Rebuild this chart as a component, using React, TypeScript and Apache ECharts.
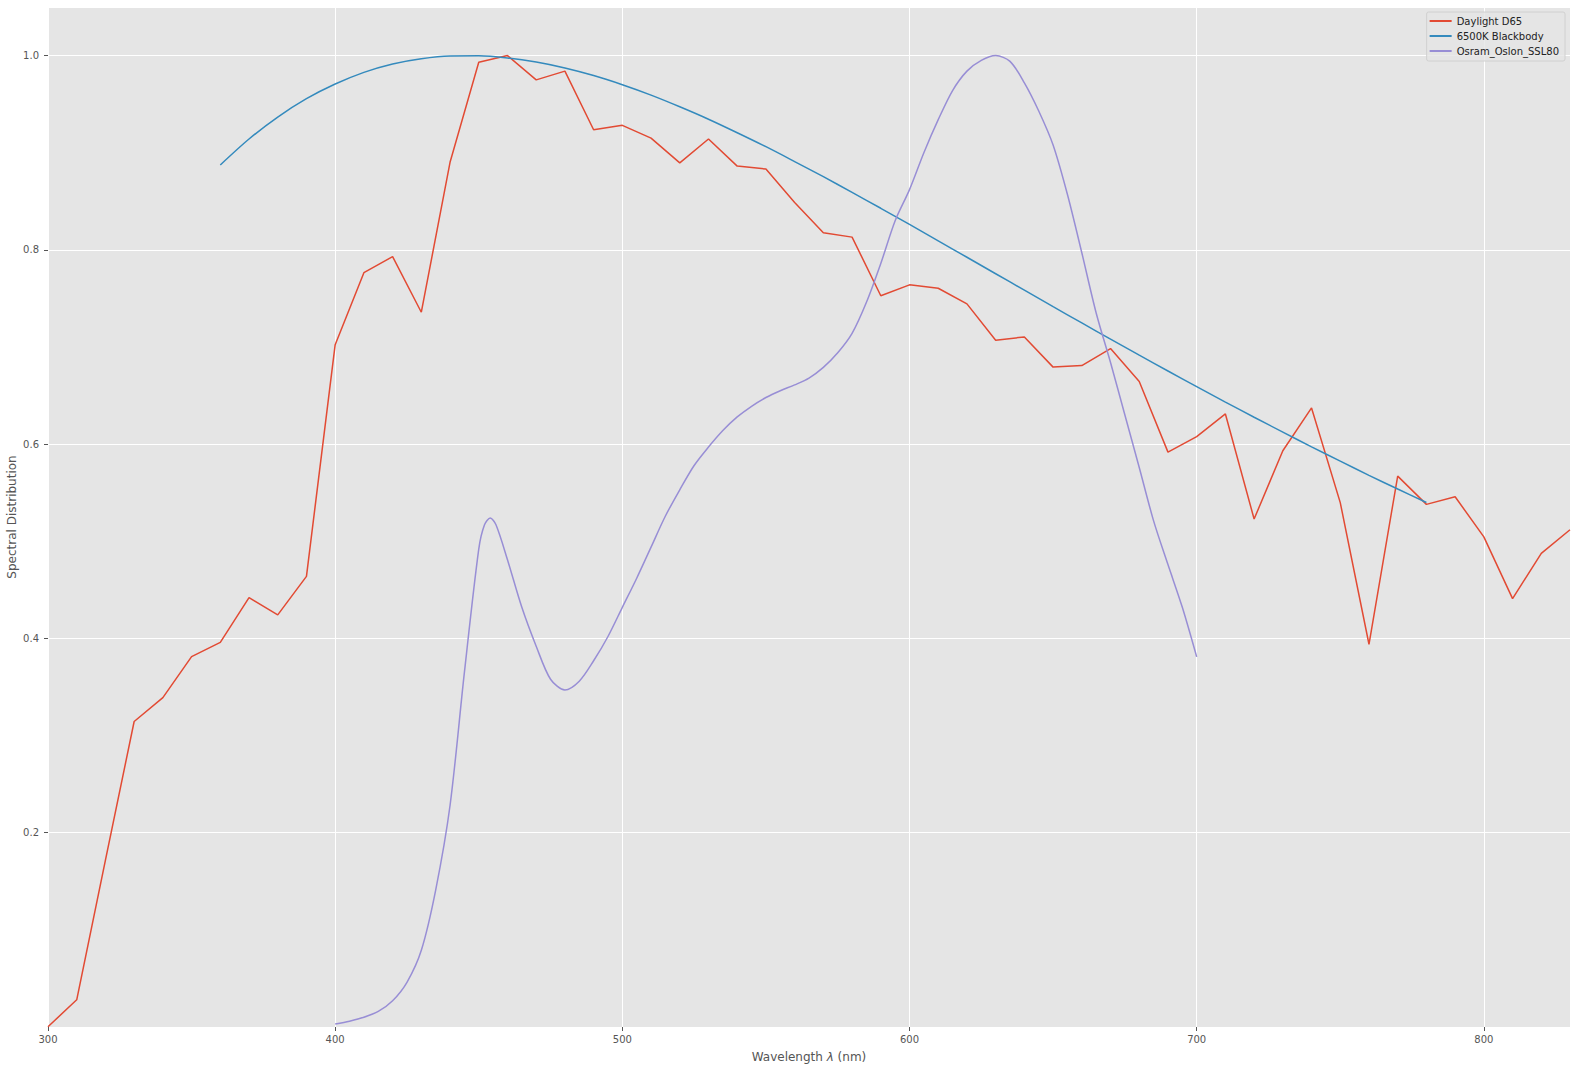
import React, { useEffect, useRef } from "react";
import * as echarts from "echarts";

const d65Nm = [300, 310, 320, 330, 340, 350, 360, 370, 380, 390, 400, 410, 420, 430, 440, 450, 460, 470, 480, 490, 500, 510, 520, 530, 540, 550, 560, 570, 580, 590, 600, 610, 620, 630, 640, 650, 660, 670, 680, 690, 700, 710, 720, 730, 740, 750, 760, 770, 780, 790, 800, 810, 820, 830];
const d65Val = [0.0003, 0.028, 0.1718, 0.3145, 0.3391, 0.3812, 0.3959, 0.4421, 0.4242, 0.4639, 0.7024, 0.7765, 0.7931, 0.7358, 0.8901, 0.9932, 1.0, 0.975, 0.984, 0.9236, 0.9282, 0.915, 0.8895, 0.9141, 0.8862, 0.8832, 0.8488, 0.8177, 0.8131, 0.7528, 0.764, 0.7605, 0.7444, 0.707, 0.7104, 0.6793, 0.6809, 0.6984, 0.6645, 0.5918, 0.6078, 0.6311, 0.5229, 0.5932, 0.6373, 0.5398, 0.394, 0.5671, 0.538, 0.5458, 0.5046, 0.441, 0.4876, 0.5119];

const bbNm = [360, 370, 380, 390, 400, 410, 420, 430, 440, 450, 460, 470, 480, 490, 500, 510, 520, 530, 540, 550, 560, 570, 580, 590, 600, 610, 620, 630, 640, 650, 660, 670, 680, 690, 700, 710, 720, 730, 740, 750, 760, 770, 780];
const bbVal = [0.8874, 0.9141, 0.9367, 0.9556, 0.9707, 0.9827, 0.9913, 0.9967, 0.9995, 0.9997, 0.9975, 0.9933, 0.9872, 0.9794, 0.97, 0.9593, 0.9473, 0.9345, 0.9206, 0.9062, 0.8909, 0.8753, 0.8592, 0.8428, 0.8262, 0.8093, 0.7924, 0.7754, 0.7585, 0.7415, 0.7248, 0.7081, 0.6916, 0.6753, 0.6592, 0.6433, 0.6277, 0.6124, 0.5972, 0.5825, 0.5679, 0.5538, 0.5399];

const osramNm = [400, 405, 410, 415, 420, 425, 430, 435, 440, 445, 450, 452, 454, 456, 460, 465, 470, 475, 480, 485, 490, 495, 500, 505, 510, 515, 520, 525, 530, 535, 540, 545, 550, 555, 560, 565, 570, 575, 580, 585, 590, 595, 600, 605, 610, 615, 620, 625, 630, 635, 640, 645, 650, 655, 660, 665, 670, 675, 680, 685, 690, 695, 700];
const osramVal = [0.003, 0.006, 0.01, 0.016, 0.027, 0.046, 0.079, 0.141, 0.228, 0.365, 0.492, 0.517, 0.524, 0.517, 0.481, 0.432, 0.392, 0.358, 0.347, 0.356, 0.377, 0.402, 0.432, 0.462, 0.494, 0.526, 0.553, 0.578, 0.597, 0.614, 0.628, 0.639, 0.648, 0.655, 0.661, 0.668, 0.679, 0.694, 0.714, 0.746, 0.786, 0.83, 0.862, 0.9, 0.934, 0.964, 0.984, 0.995, 1.0, 0.994, 0.972, 0.943, 0.908, 0.857, 0.797, 0.735, 0.684, 0.63, 0.576, 0.521, 0.476, 0.432, 0.381];

const seriesNames = ["Daylight D65", "6500K Blackbody", "Osram_Oslon_SSL80"];
const colors = ["#E24A33", "#348ABD", "#988ED5"];

const FONT = "DejaVu Sans";

export default function App() {
  const ref = useRef<HTMLDivElement>(null);
  useEffect(() => {
    document.body.style.margin = "0";
    if (!ref.current) return;
    const chart = echarts.init(ref.current, null, { renderer: "svg" });
    const pairs = (xs: number[], ys: number[]) => xs.map((x, i) => [x, ys[i]]);
    chart.setOption({
      animation: false,
      textStyle: { fontFamily: FONT },
      color: colors,
      grid: {
        left: 48,
        right: 6,
        top: 7,
        bottom: 45,
        backgroundColor: "#E5E5E5",
        show: true,
        borderWidth: 0,
        containLabel: false,
        outerBoundsMode: "none",
      },
      legend: {
        orient: "vertical",
        right: 11,
        top: 12,
        data: seriesNames,
        icon: "rect",
        itemWidth: 22,
        itemHeight: 2,
        itemGap: 3,
        padding: [3, 6, 4, 3],
        backgroundColor: "rgba(229,229,229,0.8)",
        borderColor: "#D0D0D0",
        borderWidth: 1,
        borderRadius: 2,
        textStyle: { fontFamily: FONT, fontSize: 10, color: "#222", lineHeight: 12 },
      },
      xAxis: {
        type: "value",
        min: 300,
        max: 830,
        interval: 100,
        name: "{a|Wavelength }{b|λ}{a| (nm)}",
        nameLocation: "middle",
        nameGap: 24,
        nameMoveOverlap: false,
        nameTextStyle: {
          rich: {
            a: { fontFamily: FONT, fontSize: 12, color: "#555" },
            b: { fontFamily: FONT, fontSize: 12, color: "#555", fontStyle: "italic" },
          },
        },
        axisLine: { show: false },
        axisTick: { show: true, length: 4, lineStyle: { color: "#555" } },
        axisLabel: {
          fontFamily: FONT,
          fontSize: 10,
          color: "#555",
          margin: 7,
          showMaxLabel: false,
          formatter: (v: number) => (v % 100 === 0 ? String(v) : ""),
        },
        splitLine: { show: true, lineStyle: { color: "#FFFFFF", width: 1 } },
      },
      yAxis: {
        type: "value",
        min: 0,
        max: 1.05,
        interval: 0.2,
        name: "Spectral Distribution",
        nameLocation: "middle",
        nameGap: 30,
        nameMoveOverlap: false,
        nameTextStyle: { fontFamily: FONT, fontSize: 12, color: "#555" },
        axisLine: { show: false },
        axisTick: { show: true, length: 4, lineStyle: { color: "#555" } },
        axisLabel: {
          fontFamily: FONT,
          fontSize: 10,
          color: "#555",
          margin: 9,
          showMaxLabel: false,
          showMinLabel: false,
          formatter: (v: number) => (v > 0.01 && v < 1.01 ? v.toFixed(1) : ""),
        },
        splitLine: { show: true, lineStyle: { color: "#FFFFFF", width: 1 } },
      },
      series: [
        {
          name: seriesNames[0],
          type: "line",
          data: pairs(d65Nm, d65Val),
          showSymbol: false,
          symbol: "none",
          lineStyle: { width: 1.5, color: colors[0] },
          itemStyle: { color: colors[0] },
        },
        {
          name: seriesNames[1],
          type: "line",
          data: pairs(bbNm, bbVal),
          showSymbol: false,
          symbol: "none",
          smooth: 0.3,
          lineStyle: { width: 1.5, color: colors[1] },
          itemStyle: { color: colors[1] },
        },
        {
          name: seriesNames[2],
          type: "line",
          data: pairs(osramNm, osramVal),
          showSymbol: false,
          symbol: "none",
          smooth: 0.3,
          lineStyle: { width: 1.5, color: colors[2] },
          itemStyle: { color: colors[2] },
        },
      ],
    });
    return () => chart.dispose();
  }, []);
  return <div ref={ref} style={{ width: 1576, height: 1072 }} />;
}
